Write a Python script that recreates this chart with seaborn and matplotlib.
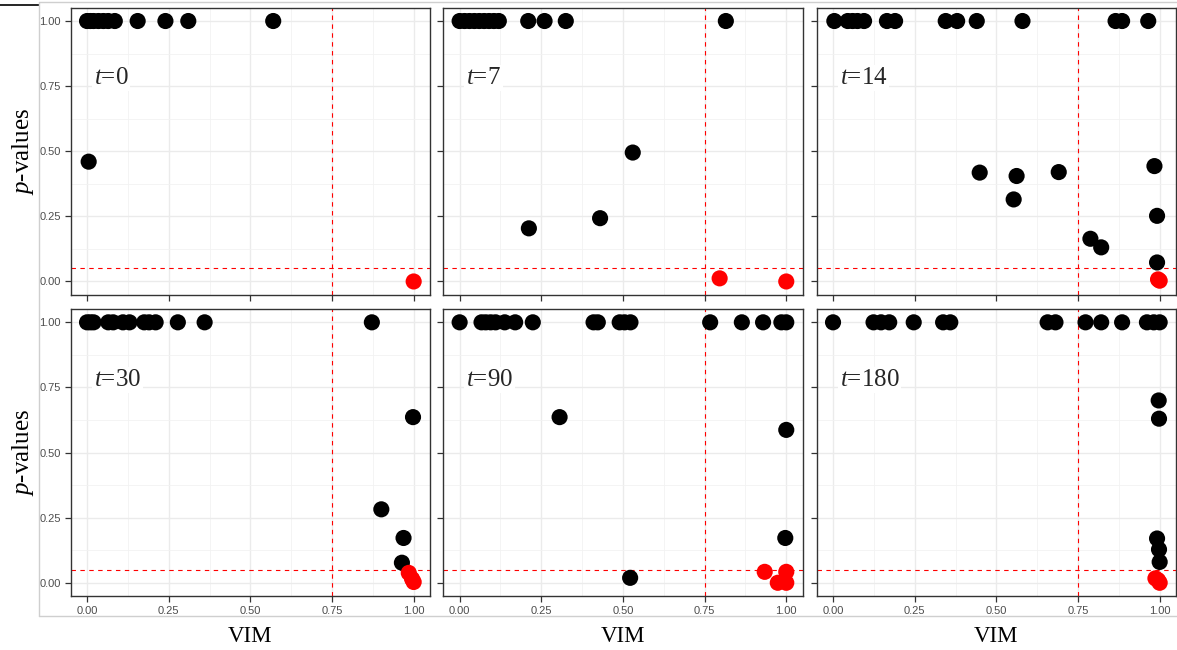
import numpy as np
import pandas as pd
import matplotlib
matplotlib.use("Agg")
import matplotlib.pyplot as plt
import seaborn as sns
from matplotlib.lines import Line2D

# ---------------- data ----------------
t_labels = ["0", "7", "14", "30", "90", "180"]

t0_vim = [0.0, 0.01, 0.02, 0.035, 0.05, 0.065, 0.085, 0.155, 0.24, 0.31, 0.57, 0.005, 1.0]
t0_p = [1, 1, 1, 1, 1, 1, 1, 1, 1, 1, 1, 0.46, 0.0]

t7_vim = [0.0, 0.015, 0.03, 0.045, 0.06, 0.075, 0.09, 0.105, 0.12, 0.21, 0.26, 0.325, 0.815,
          0.212, 0.43, 0.53, 0.796, 1.0]
t7_p = [1, 1, 1, 1, 1, 1, 1, 1, 1, 1, 1, 1, 1,
        0.204, 0.243, 0.495, 0.012, 0.0]

t14_vim = [0.004, 0.045, 0.06, 0.075, 0.095, 0.165, 0.19, 0.345, 0.38, 0.44, 0.58, 0.865, 0.885, 0.965,
           0.449, 0.562, 0.553, 0.691, 0.984, 0.992, 0.788, 0.821, 0.992, 0.995, 1.0]
t14_p = [1, 1, 1, 1, 1, 1, 1, 1, 1, 1, 1, 1, 1, 1,
         0.418, 0.405, 0.315, 0.42, 0.443, 0.252, 0.164, 0.131, 0.073, 0.008, 0.003]

t30_vim = [0.0, 0.01, 0.02, 0.065, 0.08, 0.11, 0.13, 0.175, 0.19, 0.21, 0.278, 0.36, 0.872,
           0.998, 0.901, 0.969, 0.964, 0.985, 0.995, 1.0]
t30_p = [1, 1, 1, 1, 1, 1, 1, 1, 1, 1, 1, 1, 1,
         0.636, 0.282, 0.172, 0.077, 0.038, 0.015, 0.003]

t90_vim = [0.0, 0.067, 0.08, 0.095, 0.11, 0.138, 0.17, 0.224, 0.41, 0.423, 0.49, 0.505, 0.523,
           0.767, 0.864, 0.929, 0.985, 1.0,
           0.306, 1.0, 0.997, 0.522, 0.934, 1.0, 0.974, 1.0]
t90_p = [1, 1, 1, 1, 1, 1, 1, 1, 1, 1, 1, 1, 1,
         1, 1, 1, 1, 1,
         0.636, 0.587, 0.172, 0.019, 0.042, 0.042, 0.0, 0.0]

t180_vim = [0.0, 0.124, 0.147, 0.172, 0.247, 0.337, 0.359, 0.657, 0.681, 0.773, 0.821, 0.885,
            0.961, 0.982, 1.0,
            0.997, 0.998, 0.992, 0.998, 1.0, 0.987, 0.995, 1.0]
t180_p = [1, 1, 1, 1, 1, 1, 1, 1, 1, 1, 1, 1,
          1, 1, 1,
          0.70, 0.63, 0.17, 0.128, 0.08, 0.017, 0.01, 0.0]

x_ticks = [0.0, 0.25, 0.5, 0.75, 1.0]
x_ticklabels = ["0.00", "0.25", "0.50", "0.75", "1.00"]
y_ticks = [0.0, 0.25, 0.5, 0.75, 1.0]
y_ticklabels = ["0.00", "0.25", "0.50", "0.75", "1.00"]
vim_cut = 0.75
p_cut = 0.05

panels = [(t0_vim, t0_p), (t7_vim, t7_p), (t14_vim, t14_p),
          (t30_vim, t30_p), (t90_vim, t90_p), (t180_vim, t180_p)]

frames = []
for lab, (v, p) in zip(t_labels, panels):
    d = pd.DataFrame({"VIM": v, "p": p})
    d["t"] = lab
    frames.append(d)
df = pd.concat(frames, ignore_index=True)
df["sig"] = (df["p"] < p_cut) & (df["VIM"] > vim_cut)

# ---------------- style ----------------
sns.set_style("white")
plt.rcParams["font.family"] = ["Liberation Sans", "DejaVu Sans"]
plt.rcParams["mathtext.fontset"] = "custom"
plt.rcParams["mathtext.rm"] = "Liberation Serif"
plt.rcParams["mathtext.it"] = "Liberation Serif:italic"

W, H = 1177, 650
fig = plt.figure(figsize=(W / 100, H / 100), dpi=100)
fig.patch.set_facecolor("white")

col_left = [70.7, 443.3, 816.7]
ax_w = 359.3
row_top = [8.0, 309.3]
ax_h = 286.5

serif = ["Liberation Serif", "DejaVu Serif"]

for i, lab in enumerate(t_labels):
    r, c = divmod(i, 3)
    left = col_left[c] / W
    bottom = 1 - (row_top[r] + ax_h) / H
    ax = fig.add_axes([left, bottom, ax_w / W, ax_h / H])
    sub = df[df["t"] == lab]

    ax.set_xlim(-0.05, 1.05)
    ax.set_ylim(-0.05, 1.05)
    ax.set_xticks(x_ticks)
    ax.set_yticks(y_ticks)
    ax.set_xticks([0.125, 0.375, 0.625, 0.875], minor=True)
    ax.set_yticks([0.125, 0.375, 0.625, 0.875], minor=True)
    ax.grid(which="major", color="#EBEBEB", linewidth=1.0, zorder=0)
    ax.grid(which="minor", color="#F2F2F2", linewidth=0.6, zorder=0)
    ax.set_axisbelow(True)

    ax.axvline(vim_cut, color="#FF0000", linewidth=0.8, linestyle=(0, (4, 4)), zorder=1.5)
    ax.axhline(p_cut, color="#FF0000", linewidth=0.8, linestyle=(0, (4, 4)), zorder=1.5)

    sns.scatterplot(data=sub, x="VIM", y="p", hue="sig",
                    palette={False: "black", True: "#FF0000"},
                    s=135, linewidth=0, legend=False, ax=ax, zorder=3)

    for sp in ax.spines.values():
        sp.set_color("#333333")
        sp.set_linewidth(1.0)
    ax.tick_params(which="major", length=4, width=0.9, color="#333333",
                   labelcolor="#4D4D4D", labelsize=8, pad=3.2,
                   bottom=True, left=True)
    ax.tick_params(which="minor", length=0)

    if r == 1:
        ax.set_xticklabels(x_ticklabels)
        ax.set_xlabel("VIM", fontsize=16.5, family=serif, color="black")
        ax.xaxis.label.set_va("center")
        ax.xaxis.set_label_coords(0.5, -(636 - (row_top[r] + ax_h)) / ax_h)
    else:
        ax.set_xticklabels([])
        ax.set_xlabel("")
    if c == 0:
        ax.set_yticklabels(y_ticklabels)
        ax.set_ylabel(r"$p$-values", fontsize=18, family=serif, color="black")
        ax.yaxis.label.set_va("center")
        ax.yaxis.set_label_coords(-(70.7 - 23) / ax_w, 0.5)
    else:
        ax.set_yticklabels([])
        ax.set_ylabel("")

    ax.text(0.02, 0.78, r"$t$=" + lab, fontsize=18, family=serif,
            ha="left", va="center", zorder=4,
            bbox=dict(facecolor="white", edgecolor="none", pad=1.5))

# screenshot frame remnants
gray = "#CFCFCF"
fig.add_artist(Line2D([0, 39 / W], [1 - 5 / H, 1 - 5 / H], color="black", linewidth=1.2))
fig.add_artist(Line2D([39 / W, 39 / W], [1 - 2 / H, 1 - 616 / H], color=gray, linewidth=1.0))
fig.add_artist(Line2D([39 / W, 1], [1 - 616 / H, 1 - 616 / H], color=gray, linewidth=1.0))
fig.add_artist(Line2D([39 / W, 1], [1 - 1.5 / H, 1 - 1.5 / H], color=gray, linewidth=1.0))

fig.savefig("out.png", dpi=100, facecolor="white")
